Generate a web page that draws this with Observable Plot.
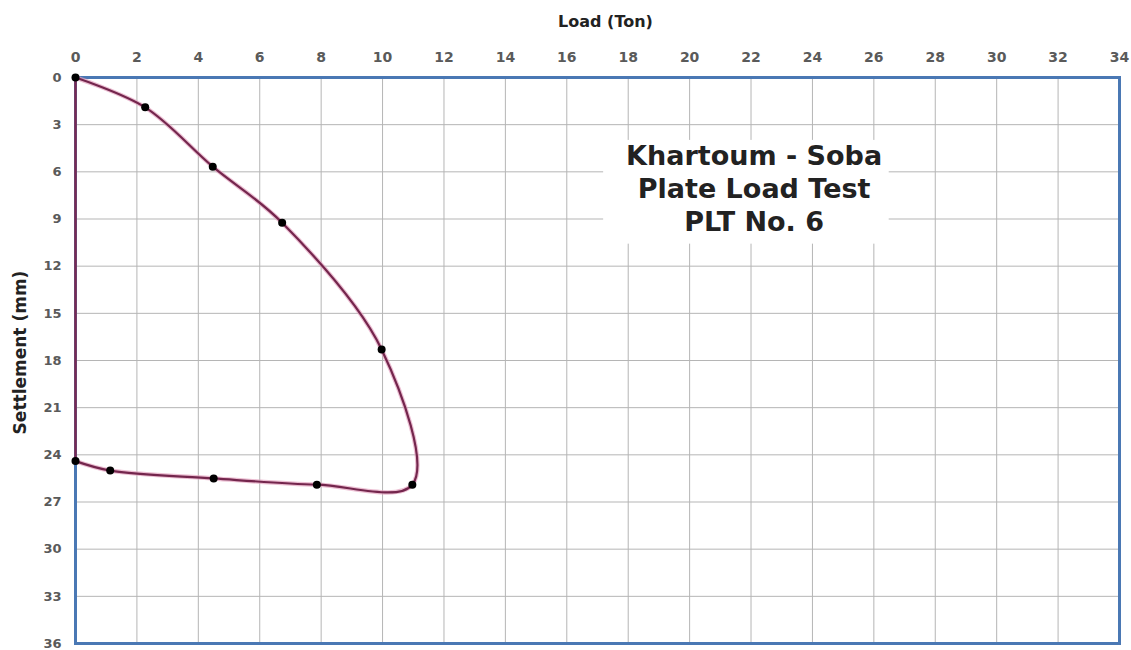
<!DOCTYPE html>
<html>
<head>
<meta charset="utf-8">
<script src="https://cdn.jsdelivr.net/npm/d3@7"></script>
<script src="https://cdn.jsdelivr.net/npm/@observablehq/plot@0.6"></script>
<style>
  html, body { margin: 0; padding: 0; background: #fff; }
  #chart svg { display: block; }
</style>
</head>
<body>
<div id="chart"></div>
<script>
// Load (Ton) and settlement (mm) readings, in test order (loading then unloading)
const loadTon = [0, 2.27, 4.47, 6.73, 9.97, 10.97, 7.86, 4.5, 1.13, 0];
const settlementMm = [0, 1.9, 5.67, 9.24, 17.3, 25.9, 25.9, 25.5, 25.0, 24.4];

const xTicks = [0, 2, 4, 6, 8, 10, 12, 14, 16, 18, 20, 22, 24, 26, 28, 30, 32, 34];
const yTicks = [0, 3, 6, 9, 12, 15, 18, 21, 24, 27, 30, 33, 36];

const titleLines = ["Khartoum - Soba", "Plate Load Test", "PLT No. 6"];
const xTitle = "Load (Ton)";
const yTitle = "Settlement (mm)";

const points = loadTon.map((x, i) => ({x, y: settlementMm[i]}));
// closing segment along the axis from last reading back to the origin
const closing = [points[points.length - 1], points[0]];

// title box position (in data units)
const titleBox = {x1: 17.2, x2: 26.5, y1: 4.0, y2: 10.6, cx: 22.1};
const titleRows = titleLines.map((t, i) => ({t, y: 5.0 + i * 2.1}));

const fontFamily = "'DejaVu Sans', sans-serif";

const chart = Plot.plot({
  width: 1131,
  height: 650,
  marginLeft: 75,
  marginRight: 12,
  marginTop: 77,
  marginBottom: 7,
  style: {fontFamily, fontSize: "13px", color: "#444", background: "#fff"},
  x: {domain: [0, 34], ticks: xTicks, axis: null},
  y: {domain: [0, 36], reverse: true, ticks: yTicks, axis: null},
  marks: [
    Plot.gridX(xTicks, {stroke: "#b5b5b5", strokeOpacity: 1, strokeWidth: 1}),
    Plot.gridY(yTicks, {stroke: "#b5b5b5", strokeOpacity: 1, strokeWidth: 1}),
    Plot.axisX(xTicks, {anchor: "top", tickSize: 0, tickPadding: 16, label: null, fill: "#5a5a5a", fontSize: 14, fontWeight: "bold"}),
    Plot.axisY(yTicks, {anchor: "left", tickSize: 0, tickPadding: 14, label: null, fill: "#5a5a5a", fontSize: 13, fontWeight: "bold"}),
    Plot.rect([titleBox], {x1: "x1", x2: "x2", y1: "y1", y2: "y2", fill: "white"}),
    Plot.text(titleRows, {x: titleBox.cx, y: "y", text: "t", fontSize: 27, fontWeight: "bold", fill: "#222"}),
    Plot.frame({stroke: "#4a78b4", strokeWidth: 3}),
    Plot.line(closing, {x: "x", y: "y", stroke: "#7a2a52", strokeWidth: 2.5}),
    Plot.line(points, {x: "x", y: "y", curve: "catmull-rom", stroke: "#e2a3bf", strokeWidth: 4.5, strokeOpacity: 0.7}),
    Plot.line(points, {x: "x", y: "y", curve: "catmull-rom", stroke: "#74264d", strokeWidth: 2.2}),
    Plot.dot(points, {x: "x", y: "y", r: 4, fill: "#000"}),
    Plot.text([xTitle], {frameAnchor: "top", dx: 8, dy: -62, fontWeight: "bold", fontSize: 16, fill: "#222"}),
    Plot.text([yTitle], {frameAnchor: "left", textAnchor: "middle", dx: -55, dy: -8, rotate: -90, fontWeight: "bold", fontSize: 17, fill: "#222"})
  ]
});
document.getElementById("chart").append(chart);
</script>
</body>
</html>
